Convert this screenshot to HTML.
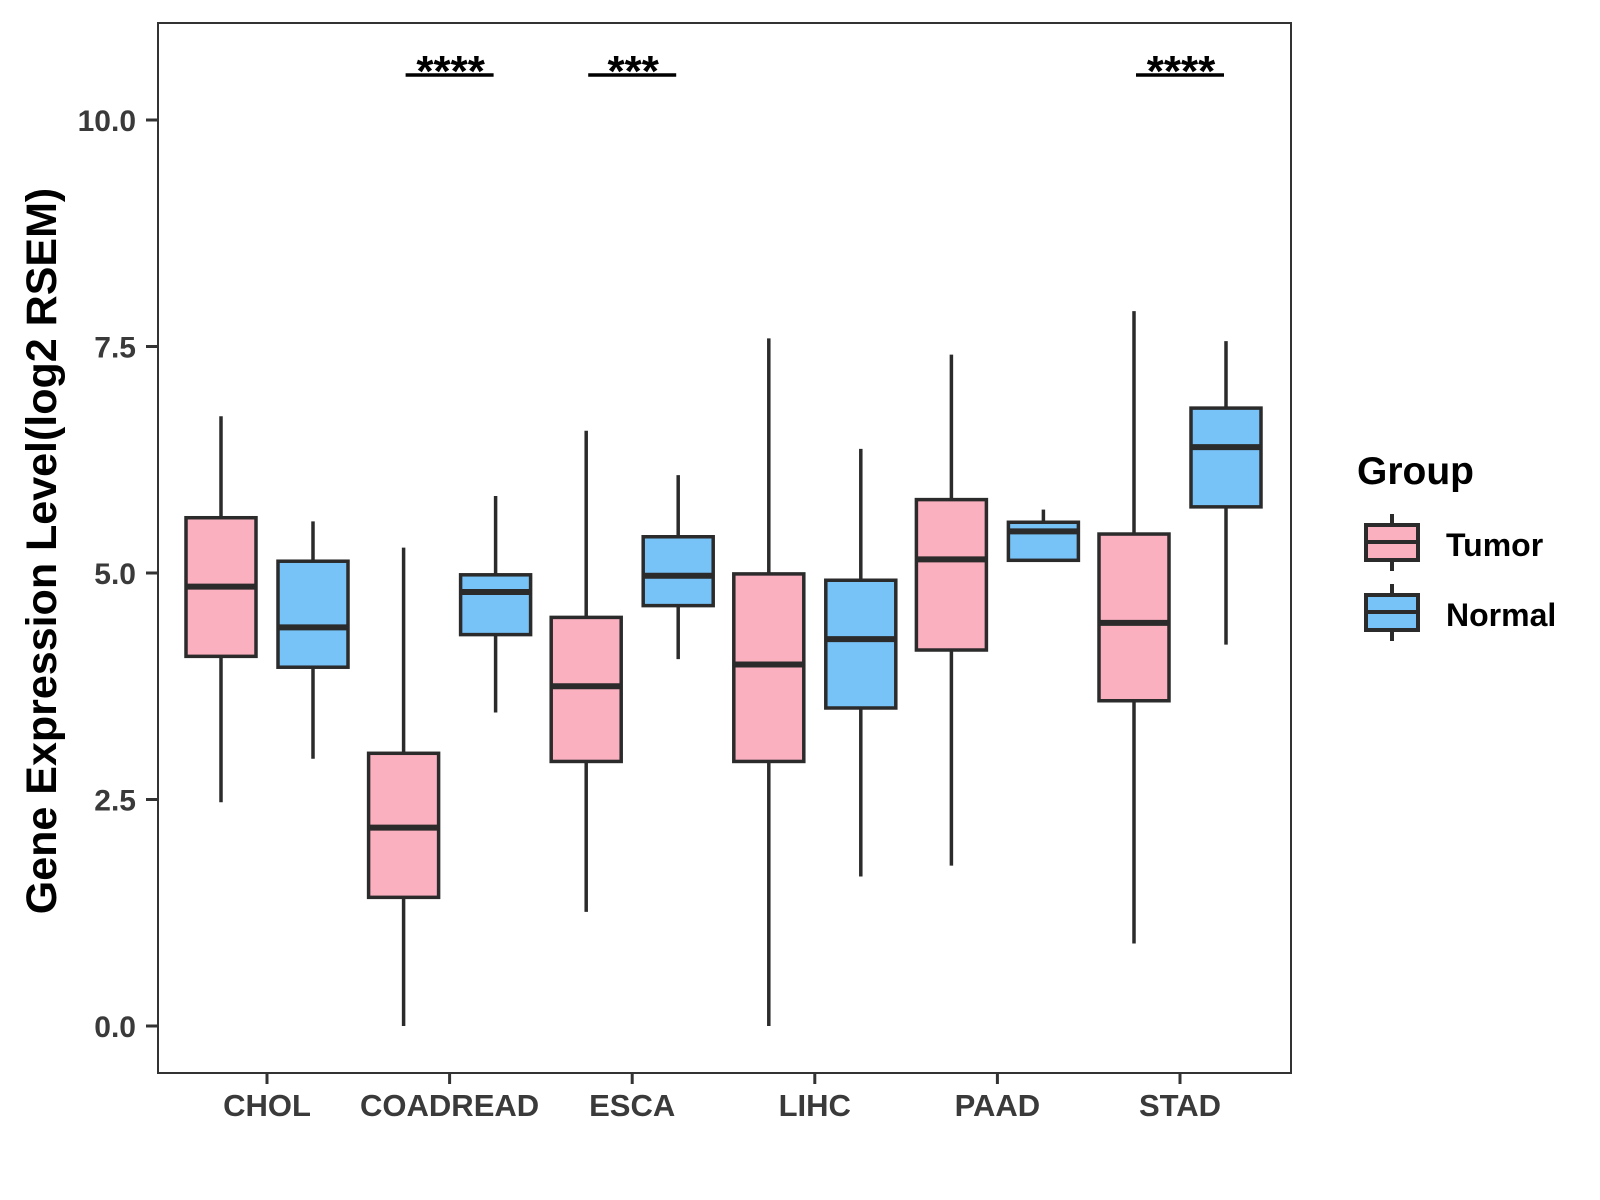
<!DOCTYPE html>
<html><head><meta charset="utf-8"><style>
html,body{margin:0;padding:0;background:#fff;width:1600px;height:1200px;overflow:hidden}
svg text{font-family:"Liberation Sans",Arial,sans-serif;font-weight:bold}
</style></head><body>
<svg id="chart" width="1600" height="1200" xmlns="http://www.w3.org/2000/svg">
<rect x="158" y="23" width="1133" height="1050" fill="#fff" stroke="#333" stroke-width="2"/>
<g id="yaxis"></g>
<g id="xaxis"></g>
<g id="boxes"></g>
<g id="sig"></g>
<text transform="translate(56,551) rotate(-90)" text-anchor="middle" font-size="43" fill="#000">Gene Expression Level(log2 RSEM)</text>
<g>
<text x="1357" y="484" font-size="39" fill="#000">Group</text>
<g>
<line x1="1392" y1="514" x2="1392" y2="571" stroke="#2b2b2b" stroke-width="4"/>
<rect x="1366" y="525" width="52" height="35" fill="#FBB0C0" stroke="#2b2b2b" stroke-width="4"/>
<line x1="1366" y1="542" x2="1418" y2="542" stroke="#2b2b2b" stroke-width="4"/>
<text x="1446" y="556" font-size="32" fill="#000">Tumor</text></g>
<g>
<line x1="1392" y1="584" x2="1392" y2="641" stroke="#2b2b2b" stroke-width="4"/>
<rect x="1366" y="595" width="52" height="35" fill="#77C2F7" stroke="#2b2b2b" stroke-width="4"/>
<line x1="1366" y1="612" x2="1418" y2="612" stroke="#2b2b2b" stroke-width="4"/>
<text x="1446" y="626" font-size="32" fill="#000">Normal</text></g>
</g>
</svg>
<script>
const categories = ["CHOL","COADREAD","ESCA","LIHC","PAAD","STAD"];
const groups = ["Tumor","Normal"];
// [lower whisker, q1, median, q3, upper whisker]
const tumorStats = [[2.47,4.08,4.85,5.61,6.73],[0.0,1.42,2.19,3.01,5.28],[1.26,2.92,3.75,4.51,6.57],[0.0,2.92,3.99,4.99,7.59],[1.77,4.15,5.15,5.81,7.41],[0.91,3.59,4.45,5.43,7.89]];
const normalStats = [[2.95,3.96,4.40,5.13,5.57],[3.46,4.32,4.79,4.98,5.85],[4.05,4.64,4.97,5.40,6.08],[1.65,3.51,4.27,4.92,6.37],[5.13,5.14,5.46,5.56,5.70],[4.21,5.73,6.39,6.82,7.56]];
const yTicks = [0,2.5,5,7.5,10];
const yTickLabels = ["0.0","2.5","5.0","7.5","10.0"];
const sigCategories = ["COADREAD","ESCA","STAD"];
const sigLabels = ["****","***","****"];

const NS="http://www.w3.org/2000/svg";
const y = v => 1026 - v*90.6;
const x = i => 267 + i*182.6;
function mk(tag, attrs, parent){const e=document.createElementNS(NS,tag);for(const k in attrs)e.setAttribute(k,attrs[k]);parent.appendChild(e);return e;}
const ya=document.getElementById('yaxis'), xa=document.getElementById('xaxis'), bx=document.getElementById('boxes'), sg=document.getElementById('sig');
yTicks.forEach((t,i)=>{
  const l=mk('line',{x1:146,x2:158,y1:y(t),y2:y(t),stroke:'#333','stroke-width':3},ya);
  
  
  const tx=mk('text',{x:136,y:y(t)+11,'text-anchor':'end','font-size':30,fill:'#3a3a3a'},ya);
  tx.textContent=yTickLabels[i];
  
  
});
categories.forEach((c,i)=>{
  const l=mk('line',{x1:x(i),x2:x(i),y1:1073,y2:1084,stroke:'#333','stroke-width':3},xa);
  
  
  const tx=mk('text',{x:x(i),y:1116,'text-anchor':'middle','font-size':31,fill:'#3a3a3a'},xa);
  tx.textContent=c;
  
  
});
function drawBox(s,cx,fill,name){
  const g=mk('g',{},bx);
  
  
  const hw=35;
  mk('line',{x1:cx,x2:cx,y1:y(s[0]),y2:y(s[4]),stroke:'#2b2b2b','stroke-width':3.5},g);
  mk('rect',{x:cx-hw,y:y(s[3]),width:2*hw,height:y(s[1])-y(s[3]),fill:fill,stroke:'#2b2b2b','stroke-width':3.5},g);
  mk('line',{x1:cx-hw,x2:cx+hw,y1:y(s[2]),y2:y(s[2]),stroke:'#2b2b2b','stroke-width':6},g);
}
categories.forEach((c,i)=>{
  drawBox(tumorStats[i],x(i)-46,'#FBB0C0','box-'+c.toLowerCase()+'-tumor');
  drawBox(normalStats[i],x(i)+46,'#77C2F7','box-'+c.toLowerCase()+'-normal');
});
sigCategories.forEach((c,k)=>{
  const i=categories.indexOf(c);
  const l=mk('line',{x1:x(i)-44,x2:x(i)+44,y1:75,y2:75,stroke:'#000','stroke-width':3.5},sg);
  
  
  const t=mk('text',{x:x(i)+1,y:86,'text-anchor':'middle','font-size':44,fill:'#000'},sg);
  t.textContent=sigLabels[k];
  
  
});
</script>
</body></html>
